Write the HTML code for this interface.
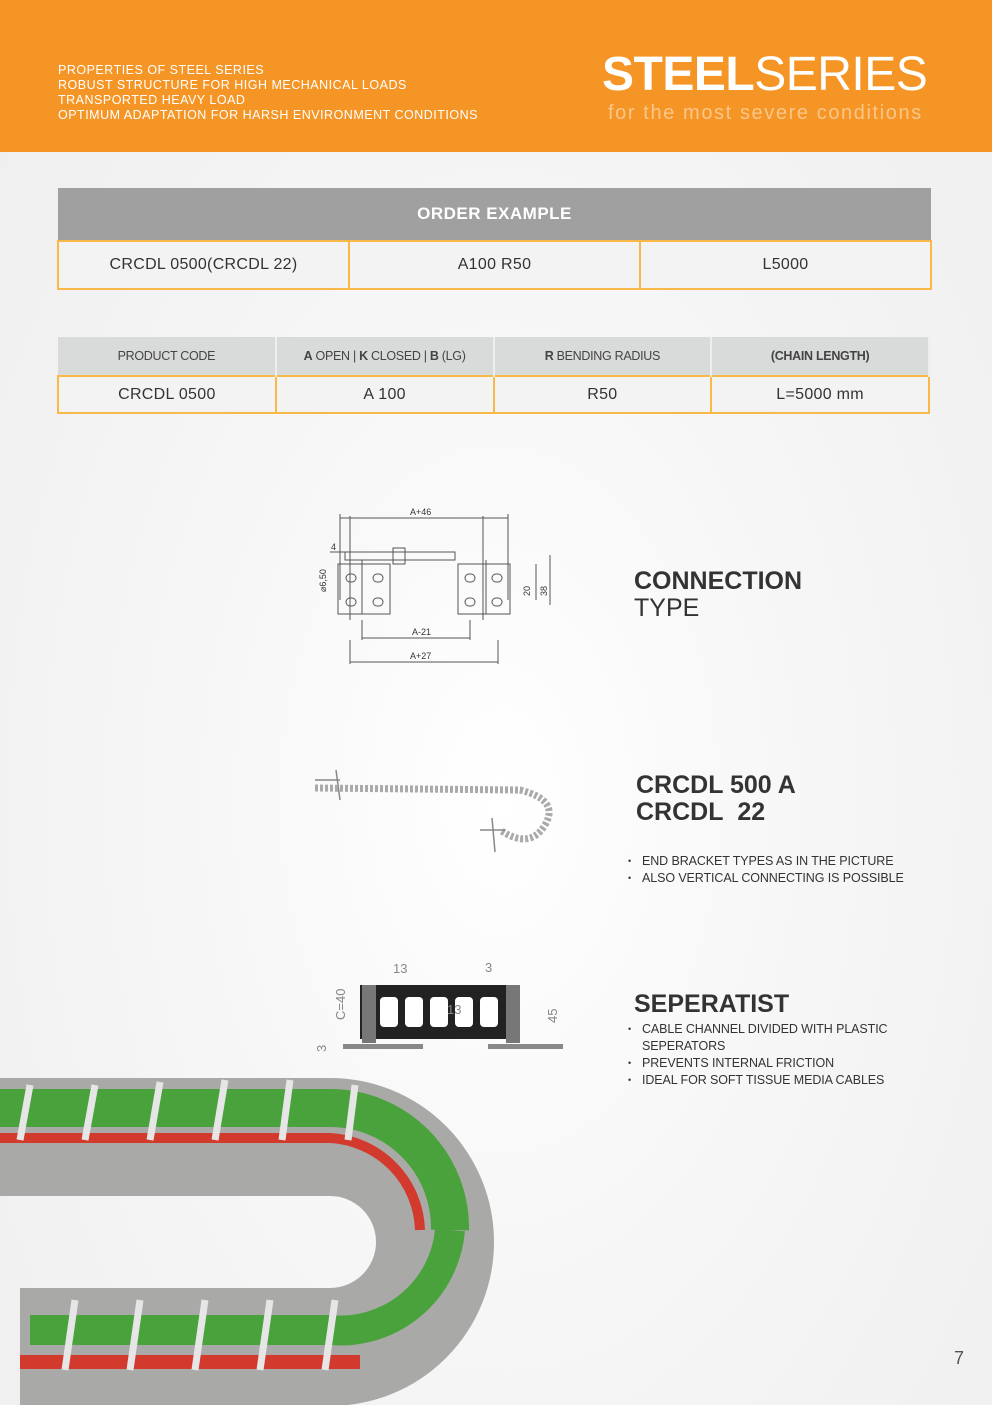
<!DOCTYPE html>
<html><head><meta charset="utf-8"><style>
body{margin:0;width:992px;height:1405px;position:relative;overflow:hidden;font-family:"Liberation Sans",sans-serif;background:radial-gradient(ellipse at 500px 800px,#ffffff 0%,#f7f7f7 40%,#eeeeee 100%);}
.hdr{position:absolute;left:0;top:0;width:992px;height:152px;background:#f59525;}
.props{position:absolute;left:58px;top:63px;color:#fff;font-size:12.5px;line-height:15px;letter-spacing:0.5px;}
.title{position:absolute;left:602px;top:48px;color:#fff;font-size:48px;line-height:54px;letter-spacing:-0.5px;}
.sub{position:absolute;left:608px;top:102px;color:#fbc68a;font-size:20px;letter-spacing:1.6px;}
table{position:absolute;border-collapse:collapse;table-layout:fixed;}
td{text-align:center;color:#333;}
.oe{left:57px;top:188px;width:875px;}
.oe .h td{background:#a0a0a0;color:#fff;font-weight:bold;font-size:17px;height:50px;letter-spacing:0.5px;}
.oe .r td{border:2px solid #f8b94a;height:44px;font-size:16px;background:#f3f3f3;letter-spacing:0.3px;}
.pc{left:57px;top:337px;width:873px;}
.pc .h td{background:#d9dada;font-size:12.5px;height:36px;color:#444;border-right:2px solid #eee;letter-spacing:-0.3px;}
.pc .r td{border:2px solid #f8b94a;height:33px;font-size:16px;background:#f3f3f3;letter-spacing:0.3px;}
.big{position:absolute;font-weight:bold;color:#333;font-size:25px;line-height:27px;letter-spacing:0px;}
ul{position:absolute;margin:0;padding:0;list-style:none;font-size:12.5px;line-height:17px;color:#333;letter-spacing:-0.1px;}
ul li{padding-left:14px;position:relative;}
ul li:before{content:"•";position:absolute;left:0;font-size:9px;}
</style></head><body>
<div class="hdr"></div>
<div class="props">PROPERTIES OF STEEL SERIES<br>ROBUST STRUCTURE FOR HIGH MECHANICAL LOADS<br>TRANSPORTED HEAVY LOAD<br>OPTIMUM ADAPTATION FOR HARSH ENVIRONMENT CONDITIONS</div>
<div class="title"><b>STEEL</b>SERIES</div>
<div class="sub">for the most severe conditions</div>

<table class="oe"><tr class="h"><td colspan="3">ORDER EXAMPLE</td></tr>
<tr class="r"><td>CRCDL 0500(CRCDL 22)</td><td>A100 R50</td><td>L5000</td></tr></table>

<table class="pc"><tr class="h"><td>PRODUCT CODE</td><td><b>A</b> OPEN | <b>K</b> CLOSED | <b>B</b> (LG)</td><td><b>R</b> BENDING RADIUS</td><td><b>(CHAIN LENGTH)</b></td></tr>
<tr class="r"><td>CRCDL 0500</td><td>A 100</td><td>R50</td><td>L=5000 mm</td></tr></table>

<svg style="position:absolute;left:0;top:0" width="992" height="1405" font-family="Liberation Sans" font-size="9" fill="#333">
<g stroke="#555" stroke-width="1" fill="none">
<line x1="340" y1="518" x2="508" y2="518"/><line x1="340" y1="514" x2="340" y2="600"/><line x1="508" y1="514" x2="508" y2="600"/>
<line x1="350" y1="516" x2="350" y2="620"/><line x1="483" y1="516" x2="483" y2="620"/>
<rect x="345" y="552" width="110" height="8"/><rect x="393" y="548" width="12" height="16"/>
<rect x="338" y="564" width="52" height="50"/><rect x="458" y="564" width="52" height="50"/>
<rect x="346" y="574" width="10" height="8" rx="4"/><rect x="346" y="598" width="10" height="8" rx="4"/>
<rect x="373" y="574" width="10" height="8" rx="4"/><rect x="373" y="598" width="10" height="8" rx="4"/>
<rect x="465" y="574" width="10" height="8" rx="4"/><rect x="465" y="598" width="10" height="8" rx="4"/>
<rect x="492" y="574" width="10" height="8" rx="4"/><rect x="492" y="598" width="10" height="8" rx="4"/>
<line x1="362" y1="560" x2="362" y2="614"/><line x1="486" y1="560" x2="486" y2="614"/>
<line x1="362" y1="620" x2="362" y2="640"/><line x1="470" y1="620" x2="470" y2="640"/>
<line x1="362" y1="638" x2="470" y2="638"/>
<line x1="350" y1="640" x2="350" y2="664"/><line x1="498" y1="640" x2="498" y2="664"/>
<line x1="350" y1="662" x2="498" y2="662"/>
<line x1="536" y1="564" x2="536" y2="600"/><line x1="550" y1="555" x2="550" y2="605"/>
<line x1="330" y1="552" x2="345" y2="552"/>
</g>
<text x="410" y="515">A+46</text><text x="412" y="635">A-21</text><text x="410" y="659">A+27</text>
<text x="331" y="550">4</text>
<text transform="translate(326,592) rotate(-90)">⌀6,50</text>
<text transform="translate(530,596) rotate(-90)">20</text><text transform="translate(547,596) rotate(-90)">38</text>

<g stroke="#888" stroke-width="1.5" fill="#ddd">
<path d="M315 780 L340 780 M336 770 L340 800" fill="none"/>
<path d="M315 788 L520 790 Q560 800 545 825 Q530 850 500 830" fill="none" stroke="#aaa" stroke-width="7" stroke-dasharray="3 2"/>
<path d="M480 830 L505 830 M492 818 L495 852" fill="none"/>
</g>

<g>
<rect x="360" y="985" width="160" height="54" fill="#222"/>
<g fill="#fff"><rect x="380" y="997" width="18" height="30" rx="4"/><rect x="405" y="997" width="18" height="30" rx="4"/><rect x="430" y="997" width="18" height="30" rx="4"/><rect x="455" y="997" width="18" height="30" rx="4"/><rect x="480" y="997" width="18" height="30" rx="4"/></g>
<rect x="362" y="985" width="14" height="58" fill="#777"/><rect x="506" y="985" width="14" height="58" fill="#777"/>
<rect x="343" y="1044" width="80" height="5" fill="#888"/><rect x="488" y="1044" width="75" height="5" fill="#888"/>
</g>
<g fill="#888" font-size="13"><text x="393" y="973">13</text><text x="485" y="972">3</text><text x="447" y="1014">13</text>
<text transform="translate(345,1020) rotate(-90)">C=40</text><text transform="translate(557,1023) rotate(-90)">45</text><text transform="translate(326,1052) rotate(-90)">3</text></g>

<path d="M-30 1137 L330 1137 A105 105 0 0 1 330 1347 L20 1347" fill="none" stroke="#a9aaa7" stroke-width="118"/>
<path d="M-30 1108 L330 1108 A120 120 0 0 1 450 1230" fill="none" stroke="#4aa23c" stroke-width="38"/>
<path d="M-30 1138 L330 1138 A95 95 0 0 1 420 1230" fill="none" stroke="#d33a2e" stroke-width="10"/>
<path d="M450 1230 A110 110 0 0 1 330 1330 L30 1330" fill="none" stroke="#4aa23c" stroke-width="30"/>
<path d="M20 1362 L360 1362" fill="none" stroke="#d33a2e" stroke-width="14"/>
<g stroke="#e6e6e6" stroke-width="7">
<line x1="30" y1="1085" x2="20" y2="1140"/><line x1="95" y1="1085" x2="85" y2="1140"/><line x1="160" y1="1082" x2="150" y2="1140"/><line x1="225" y1="1080" x2="215" y2="1140"/><line x1="290" y1="1080" x2="282" y2="1140"/><line x1="355" y1="1085" x2="348" y2="1140"/>
<line x1="75" y1="1300" x2="65" y2="1370"/><line x1="140" y1="1300" x2="130" y2="1370"/><line x1="205" y1="1300" x2="195" y2="1370"/><line x1="270" y1="1300" x2="260" y2="1370"/><line x1="335" y1="1300" x2="325" y2="1370"/>
</g>
</svg>

<div class="big" style="left:634px;top:568px;">CONNECTION<br><span style="font-weight:normal">TYPE</span></div>
<div class="big" style="left:636px;top:772px;">CRCDL 500 A<br>CRCDL&nbsp; 22</div>
<ul style="left:628px;top:853px;"><li>END BRACKET TYPES AS IN THE PICTURE</li><li>ALSO VERTICAL CONNECTING IS POSSIBLE</li></ul>
<div class="big" style="left:634px;top:991px;">SEPERATIST</div>
<ul style="left:628px;top:1021px;"><li>CABLE CHANNEL DIVIDED WITH PLASTIC<br>SEPERATORS</li><li>PREVENTS INTERNAL FRICTION</li><li>IDEAL FOR SOFT TISSUE MEDIA CABLES</li></ul>
<div style="position:absolute;left:954px;top:1348px;font-size:18px;color:#555;">7</div>
</body></html>
